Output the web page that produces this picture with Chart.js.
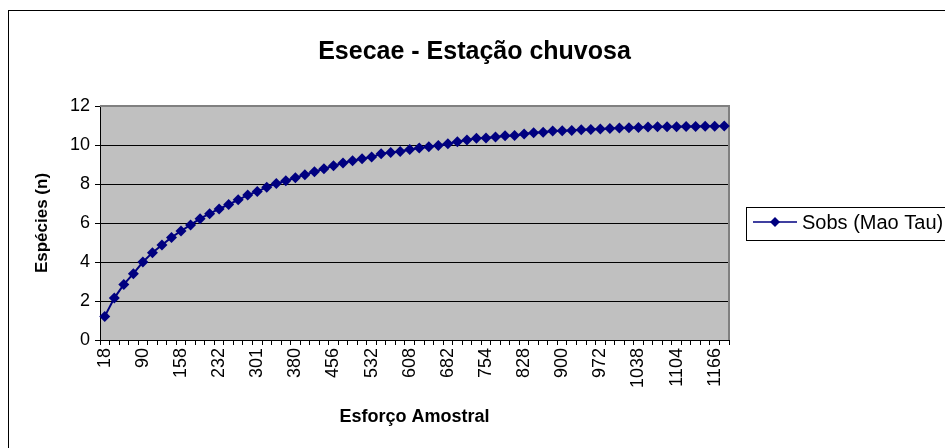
<!DOCTYPE html>
<html lang="pt">
<head>
<meta charset="utf-8">
<title>Esecae - Estação chuvosa</title>
<script src="https://cdn.jsdelivr.net/npm/chart.js@4.4.1/dist/chart.umd.min.js"></script>
<style>
  html, body { margin: 0; padding: 0; background: #fff; }
  #wrap { width: 945px; height: 448px; }
</style>
</head>
<body>
<div id="wrap"><canvas id="myChart" width="945" height="448"></canvas></div>
<script>
// Esforço amostral (categorias do eixo x)
const esforco = [
  18, 36, 54, 72, 90, 107, 124, 141, 158, 176, 195, 213, 232, 249, 266, 283,
  301, 321, 341, 360, 380, 399, 418, 437, 456, 475, 494, 513, 532, 551, 570, 589,
  608, 627, 645, 664, 682, 700, 718, 736, 754, 773, 791, 810, 828, 846, 864, 882,
  900, 918, 936, 954, 972, 988, 1005, 1021, 1038, 1054, 1071, 1087, 1104, 1119, 1135, 1150,
  1166, 1182,
];

// Sobs (Mao Tau)
const sobs = [
  1.21, 2.15, 2.85, 3.4, 4.0, 4.48, 4.87, 5.26, 5.59, 5.9, 6.22, 6.48, 6.72, 6.95, 7.19, 7.43,
  7.62, 7.83, 8.02, 8.17, 8.32, 8.48, 8.63, 8.78, 8.94, 9.08, 9.19, 9.3, 9.38, 9.55, 9.62, 9.67,
  9.77, 9.84, 9.91, 9.98, 10.07, 10.17, 10.26, 10.34, 10.36, 10.41, 10.48, 10.49, 10.56, 10.63, 10.65, 10.72,
  10.73, 10.75, 10.78, 10.8, 10.82, 10.85, 10.87, 10.88, 10.9, 10.92, 10.93, 10.93, 10.94, 10.95, 10.95, 10.96,
  10.96, 10.97,
];

// rótulos do eixo y
const yTicks = [0, 2, 4, 6, 8, 10, 12];

const NAVY = "#000080";
const FONT = "'Liberation Sans', Arial, sans-serif";

// fundo cinza da área de plotagem + moldura externa
const plotArea = {
  id: "plotArea",
  beforeDraw(chart) {
    const { ctx, chartArea: a } = chart;
    ctx.save();
    ctx.fillStyle = "#fff";
    ctx.fillRect(0, 0, chart.width, chart.height);
    ctx.fillStyle = "#c0c0c0";
    ctx.fillRect(a.left, a.top, a.right - a.left, a.bottom - a.top);
    ctx.strokeStyle = "#000";
    ctx.lineWidth = 1;
    ctx.strokeRect(8.5, 10.5, 1000, 1000);
    ctx.restore();
  },
  beforeDatasetsDraw(chart) {
    const { ctx, chartArea: a } = chart;
    ctx.save();
    ctx.strokeStyle = "#808080";
    ctx.lineWidth = 2;
    ctx.beginPath();
    ctx.moveTo(a.left, a.top);
    ctx.lineTo(a.right, a.top);
    ctx.lineTo(a.right, a.bottom);
    ctx.stroke();
    ctx.restore();
  },
};

// legenda com caixa, no estilo do Excel
const boxLegend = {
  id: "boxLegend",
  afterDraw(chart) {
    const { ctx } = chart;
    const ds = chart.data.datasets[0];
    const x = 746.5, y = 207.5, h = 33, cy = 222;
    ctx.save();
    ctx.fillStyle = "#fff";
    ctx.fillRect(x, y, 300, h);
    ctx.strokeStyle = "#000";
    ctx.lineWidth = 1;
    ctx.strokeRect(x, y, 300, h);
    ctx.strokeStyle = NAVY;
    ctx.lineWidth = 1.5;
    ctx.beginPath();
    ctx.moveTo(753, cy);
    ctx.lineTo(797, cy);
    ctx.stroke();
    ctx.fillStyle = NAVY;
    ctx.beginPath();
    ctx.moveTo(775, cy - 5);
    ctx.lineTo(780, cy);
    ctx.lineTo(775, cy + 5);
    ctx.lineTo(770, cy);
    ctx.closePath();
    ctx.fill();
    ctx.fillStyle = "#000";
    ctx.font = `20px ${FONT}`;
    ctx.textBaseline = "middle";
    ctx.fillText(ds.label, 802, cy + 1);
    ctx.restore();
  },
};

const chartConfig = {
  type: "line",
  data: {
    labels: esforco.map(String),
    datasets: [
      {
        label: "Sobs (Mao Tau)",
        data: sobs,
        yAxisID: "y",
        borderColor: NAVY,
        backgroundColor: NAVY,
        borderWidth: 2,
        pointStyle: "rectRot",
        pointRadius: 5.5,
        pointBackgroundColor: NAVY,
        pointBorderColor: NAVY,
        pointBorderWidth: 0,
        tension: 0,
        fill: false,
      },
    ],
  },
  options: {
    responsive: false,
    devicePixelRatio: 1,
    animation: false,
    layout: { padding: { left: 4, right: 0, top: 0, bottom: 0 } },
    plugins: {
      legend: { display: false },
      tooltip: { enabled: false },
      title: {
        display: true,
        text: "Esecae - Estação chuvosa",
        color: "#000",
        font: { family: FONT, size: 25, weight: "bold" },
        padding: { top: 37, bottom: 39 },
      },
    },
    scales: {
      x: {
        type: "category",
        offset: true,
        afterFit: (s) => { s.height = 108; },
        border: { color: "#000", width: 1 },
        grid: {
          display: true,
          drawOnChartArea: false,
          drawTicks: true,
          tickLength: 5,
          offset: true,
          color: "#000",
        },
        ticks: {
          autoSkip: false,
          maxRotation: 90,
          minRotation: 90,
          padding: 3,
          color: "#000",
          font: { family: FONT, size: 18 },
          callback: (v, i) => (i % 4 === 0 ? esforco[i] : ""),
        },
        title: {
          display: true,
          text: "Esforço Amostral",
          color: "#000",
          font: { family: FONT, size: 18, weight: "bold" },
          padding: { top: 0, bottom: 20 },
        },
      },
      y: {
        min: 0,
        max: 12,
        afterFit: (s) => { s.width = 96; },
        afterBuildTicks: (s) => { s.ticks = yTicks.map((v) => ({ value: v })); },
        border: { color: "#000", width: 1 },
        grid: {
          color: (c) => (c.tick && c.tick.value === 12 ? "#808080" : "#000"),
          tickColor: "#000",
          tickLength: 5,
          lineWidth: 1,
        },
        ticks: {
          stepSize: 2,
          padding: 5,
          color: "#000",
          font: { family: FONT, size: 18 },
        },
        title: {
          display: true,
          text: "Espécies (n)",
          color: "#000",
          font: { family: FONT, size: 17, weight: "bold" },
          padding: { top: 28, bottom: 0 },
        },
      },
      // eixo vazio à direita: reserva o espaço da legenda
      spacer: {
        type: "linear",
        position: "right",
        display: true,
        afterFit: (s) => { s.width = 216; },
        grid: { display: false, drawTicks: false },
        border: { display: false },
        ticks: { display: false },
      },
    },
  },
  plugins: [plotArea, boxLegend],
};

const initChart = () => {
  const canvas = document.getElementById("myChart");
  if (!canvas) return;
  new Chart(canvas, chartConfig);
};

if (document.readyState === "loading") {
  document.addEventListener("DOMContentLoaded", initChart);
} else {
  initChart();
}
</script>
</body>
</html>
